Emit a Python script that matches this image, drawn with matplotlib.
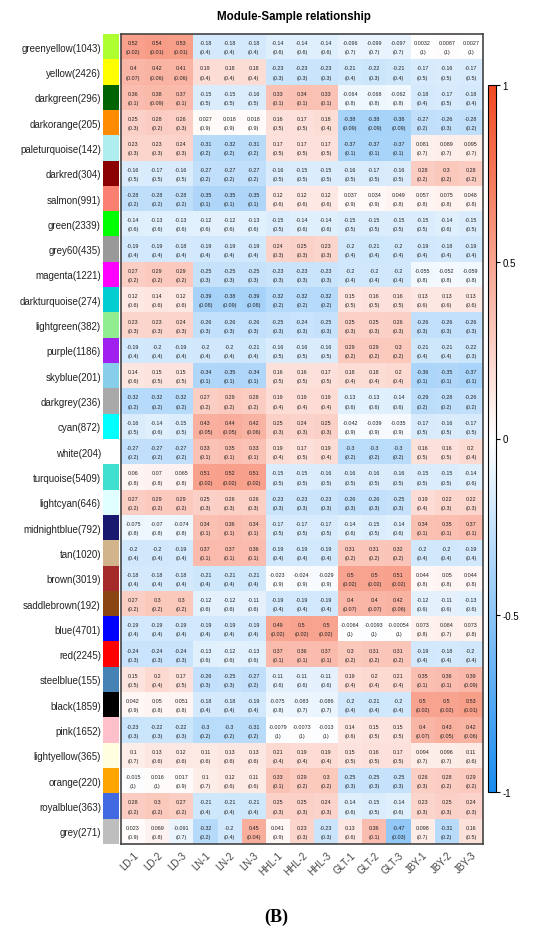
import numpy as np
import matplotlib
matplotlib.use('Agg')
import matplotlib.pyplot as plt
from matplotlib.colors import LinearSegmentedColormap, ListedColormap

plt.rcParams['font.family'] = ['Liberation Sans', 'DejaVu Sans']

samples = ['LD-1', 'LD-2', 'LD-3', 'LN-1', 'LN-2', 'LN-3', 'HHL-1', 'HHL-2', 'HHL-3',
           'GLT-1', 'GLT-2', 'GLT-3', 'JBY-1', 'JBY-2', 'JBY-3']

modules = ['greenyellow', 'yellow', 'darkgreen', 'darkorange', 'paleturquoise', 'darkred',
           'salmon', 'green', 'grey60', 'magenta', 'darkturquoise', 'lightgreen', 'purple',
           'skyblue', 'darkgrey', 'cyan', 'white', 'turquoise', 'lightcyan', 'midnightblue',
           'tan', 'brown', 'saddlebrown', 'blue', 'red', 'steelblue', 'black', 'pink',
           'lightyellow', 'orange', 'royalblue', 'grey']

module_sizes = [1043, 2426, 296, 205, 142, 304, 991, 2339, 435, 1221, 274, 382, 1186,
                201, 236, 872, 204, 5409, 646, 792, 1020, 3019, 192, 4701, 2245, 155,
                1859, 1652, 365, 220, 363, 271]

# R colour names -> hex
r_colors = {
    'greenyellow': '#ADFF2F', 'yellow': '#FFFF00', 'darkgreen': '#006400',
    'darkorange': '#FF8C00', 'paleturquoise': '#AFEEEE', 'darkred': '#8B0000',
    'salmon': '#FA8072', 'green': '#00FF00', 'grey60': '#999999', 'magenta': '#FF00FF',
    'darkturquoise': '#00CED1', 'lightgreen': '#90EE90', 'purple': '#A020F0',
    'skyblue': '#87CEEB', 'darkgrey': '#A9A9A9', 'cyan': '#00FFFF', 'white': '#FFFFFF',
    'turquoise': '#40E0D0', 'lightcyan': '#E0FFFF', 'midnightblue': '#191970',
    'tan': '#D2B48C', 'brown': '#A52A2A', 'saddlebrown': '#8B4513', 'blue': '#0000FF',
    'red': '#FF0000', 'steelblue': '#4682B4', 'black': '#000000', 'pink': '#FFC0CB',
    'lightyellow': '#FFFFE0', 'orange': '#FFA500', 'royalblue': '#4169E1', 'grey': '#BEBEBE',
}

cor = [
    [0.52, 0.54, 0.53, -0.18, -0.18, -0.18, -0.14, -0.14, -0.14, -0.096, -0.099, -0.097, 0.0032, 0.0087, 0.0027],
    [0.4, 0.42, 0.41, 0.19, 0.18, 0.18, -0.23, -0.23, -0.23, -0.21, -0.22, -0.21, -0.17, -0.16, -0.17],
    [0.36, 0.38, 0.37, -0.15, -0.15, -0.16, 0.33, 0.34, 0.33, -0.064, -0.068, -0.062, -0.18, -0.17, -0.18],
    [0.25, 0.28, 0.26, 0.027, 0.018, 0.018, 0.16, 0.17, 0.18, -0.38, -0.38, -0.38, -0.27, -0.26, -0.28],
    [0.23, 0.23, 0.24, -0.31, -0.32, -0.31, 0.17, 0.17, 0.17, -0.37, -0.37, -0.37, 0.081, 0.089, 0.095],
    [-0.16, -0.17, -0.16, -0.27, -0.27, -0.27, -0.16, -0.15, -0.15, -0.16, -0.17, -0.16, 0.28, 0.3, 0.28],
    [-0.28, -0.28, -0.28, -0.35, -0.35, -0.35, 0.12, 0.12, 0.12, 0.037, 0.034, 0.049, 0.057, 0.075, 0.048],
    [-0.14, -0.13, -0.13, -0.12, -0.12, -0.13, -0.15, -0.14, -0.14, -0.15, -0.15, -0.15, -0.15, -0.14, -0.15],
    [-0.19, -0.19, -0.18, -0.19, -0.19, -0.19, 0.24, 0.25, 0.23, -0.2, -0.21, -0.2, -0.19, -0.18, -0.19],
    [0.27, 0.29, 0.29, -0.25, -0.25, -0.25, -0.23, -0.23, -0.23, -0.2, -0.2, -0.2, -0.055, -0.052, -0.059],
    [0.12, 0.14, 0.12, -0.39, -0.38, -0.39, -0.32, -0.32, -0.32, 0.15, 0.16, 0.16, 0.13, 0.13, 0.13],
    [0.23, 0.23, 0.24, -0.26, -0.26, -0.26, -0.25, -0.24, -0.25, 0.25, 0.25, 0.26, -0.26, -0.26, -0.26],
    [-0.19, -0.2, -0.19, -0.2, -0.2, -0.21, -0.16, -0.16, -0.16, 0.29, 0.29, 0.3, -0.21, -0.21, -0.22],
    [0.14, 0.15, 0.15, -0.34, -0.35, -0.34, 0.16, 0.16, 0.17, 0.18, 0.18, 0.2, -0.36, -0.35, -0.37],
    [-0.32, -0.32, -0.32, 0.27, 0.29, 0.28, 0.19, 0.19, 0.19, -0.13, -0.13, -0.14, -0.29, -0.28, -0.26],
    [-0.16, -0.14, -0.15, 0.43, 0.44, 0.42, 0.25, 0.24, 0.25, -0.042, -0.039, -0.035, -0.17, -0.16, -0.17],
    [-0.27, -0.27, -0.27, 0.33, 0.35, 0.33, 0.19, 0.17, 0.19, -0.3, -0.3, -0.3, 0.16, 0.16, 0.2],
    [0.06, 0.07, 0.065, 0.51, 0.52, 0.51, -0.15, -0.15, -0.16, -0.16, -0.16, -0.16, -0.15, -0.15, -0.14],
    [0.27, 0.29, 0.29, 0.25, 0.26, 0.26, -0.23, -0.23, -0.23, -0.26, -0.26, -0.25, 0.19, 0.22, 0.22],
    [-0.075, -0.07, -0.074, 0.34, 0.36, 0.34, -0.17, -0.17, -0.17, -0.14, -0.15, -0.14, 0.34, 0.35, 0.37],
    [-0.2, -0.2, -0.19, 0.37, 0.37, 0.36, -0.19, -0.19, -0.19, 0.31, 0.31, 0.32, -0.2, -0.2, -0.19],
    [-0.18, -0.18, -0.18, -0.21, -0.21, -0.21, -0.023, -0.024, -0.029, 0.5, 0.5, 0.51, 0.044, 0.05, 0.044],
    [0.27, 0.3, 0.3, -0.12, -0.12, -0.11, -0.19, -0.19, -0.19, 0.4, 0.4, 0.42, -0.12, -0.11, -0.13],
    [-0.19, -0.19, -0.19, -0.19, -0.19, -0.19, 0.49, 0.5, 0.5, -0.0064, -0.0093, -0.00054, 0.073, 0.084, 0.073],
    [-0.24, -0.24, -0.24, -0.13, -0.12, -0.13, 0.37, 0.36, 0.37, 0.3, 0.31, 0.31, -0.19, -0.18, -0.2],
    [0.15, 0.2, 0.17, -0.26, -0.25, -0.27, -0.11, -0.11, -0.11, 0.19, 0.2, 0.21, 0.35, 0.36, 0.39],
    [0.042, 0.05, 0.051, -0.18, -0.18, -0.19, -0.075, -0.083, -0.086, -0.2, -0.21, -0.2, 0.5, 0.5, 0.53],
    [-0.23, -0.22, -0.22, -0.3, -0.3, -0.31, -0.0079, -0.0073, -0.013, 0.14, 0.15, 0.15, 0.4, 0.43, 0.42],
    [0.1, 0.13, 0.12, 0.11, 0.13, 0.13, 0.21, 0.19, 0.19, 0.15, 0.16, 0.17, 0.094, 0.096, 0.11],
    [-0.015, 0.016, 0.017, 0.1, 0.12, 0.11, 0.33, 0.29, 0.3, -0.25, -0.25, -0.25, 0.26, 0.28, 0.29],
    [0.28, 0.3, 0.27, -0.21, -0.21, -0.21, 0.25, 0.25, 0.24, -0.14, -0.15, -0.14, 0.23, 0.25, 0.24],
    [0.023, 0.069, -0.091, -0.32, -0.2, 0.45, 0.041, 0.23, -0.23, 0.13, 0.36, -0.47, 0.098, -0.31, 0.16],
]

pval = [
    [0.02, 0.01, 0.01, 0.4, 0.4, 0.4, 0.6, 0.6, 0.6, 0.7, 0.7, 0.7, 1, 1, 1],
    [0.07, 0.06, 0.06, 0.4, 0.4, 0.4, 0.3, 0.3, 0.3, 0.4, 0.3, 0.4, 0.5, 0.5, 0.5],
    [0.1, 0.09, 0.1, 0.5, 0.5, 0.5, 0.1, 0.1, 0.1, 0.8, 0.8, 0.8, 0.4, 0.5, 0.4],
    [0.3, 0.2, 0.3, 0.9, 0.9, 0.9, 0.5, 0.5, 0.4, 0.09, 0.09, 0.09, 0.2, 0.3, 0.2],
    [0.3, 0.3, 0.3, 0.2, 0.2, 0.2, 0.5, 0.5, 0.5, 0.1, 0.1, 0.1, 0.7, 0.7, 0.7],
    [0.5, 0.5, 0.5, 0.2, 0.2, 0.2, 0.5, 0.5, 0.5, 0.5, 0.5, 0.5, 0.2, 0.2, 0.2],
    [0.2, 0.2, 0.2, 0.1, 0.1, 0.1, 0.6, 0.6, 0.6, 0.9, 0.9, 0.8, 0.8, 0.8, 0.8],
    [0.6, 0.6, 0.6, 0.6, 0.6, 0.6, 0.5, 0.6, 0.6, 0.5, 0.5, 0.5, 0.5, 0.6, 0.5],
    [0.4, 0.4, 0.4, 0.4, 0.4, 0.4, 0.3, 0.3, 0.3, 0.4, 0.4, 0.4, 0.4, 0.4, 0.4],
    [0.2, 0.2, 0.2, 0.3, 0.3, 0.3, 0.3, 0.3, 0.3, 0.4, 0.4, 0.4, 0.8, 0.8, 0.8],
    [0.6, 0.6, 0.6, 0.08, 0.09, 0.08, 0.2, 0.2, 0.2, 0.5, 0.5, 0.5, 0.6, 0.6, 0.6],
    [0.3, 0.3, 0.3, 0.3, 0.3, 0.3, 0.3, 0.3, 0.3, 0.3, 0.3, 0.3, 0.3, 0.3, 0.3],
    [0.4, 0.4, 0.4, 0.4, 0.4, 0.4, 0.5, 0.5, 0.5, 0.2, 0.2, 0.2, 0.4, 0.4, 0.3],
    [0.6, 0.5, 0.5, 0.1, 0.1, 0.1, 0.5, 0.5, 0.5, 0.4, 0.4, 0.4, 0.1, 0.1, 0.1],
    [0.2, 0.2, 0.2, 0.2, 0.2, 0.2, 0.4, 0.4, 0.4, 0.6, 0.6, 0.6, 0.2, 0.2, 0.2],
    [0.5, 0.6, 0.5, 0.05, 0.05, 0.06, 0.3, 0.3, 0.3, 0.9, 0.9, 0.9, 0.5, 0.5, 0.5],
    [0.2, 0.2, 0.2, 0.1, 0.1, 0.1, 0.4, 0.5, 0.4, 0.2, 0.2, 0.2, 0.5, 0.5, 0.4],
    [0.8, 0.8, 0.8, 0.02, 0.02, 0.02, 0.5, 0.5, 0.5, 0.5, 0.5, 0.5, 0.5, 0.5, 0.6],
    [0.2, 0.2, 0.2, 0.3, 0.3, 0.3, 0.3, 0.3, 0.3, 0.3, 0.3, 0.3, 0.4, 0.3, 0.3],
    [0.8, 0.8, 0.8, 0.1, 0.1, 0.1, 0.5, 0.5, 0.5, 0.6, 0.5, 0.6, 0.1, 0.1, 0.1],
    [0.4, 0.4, 0.4, 0.1, 0.1, 0.1, 0.4, 0.4, 0.4, 0.2, 0.2, 0.2, 0.4, 0.4, 0.4],
    [0.4, 0.4, 0.4, 0.4, 0.4, 0.4, 0.9, 0.9, 0.9, 0.02, 0.02, 0.02, 0.8, 0.8, 0.8],
    [0.2, 0.2, 0.2, 0.6, 0.6, 0.6, 0.4, 0.4, 0.4, 0.07, 0.07, 0.06, 0.6, 0.6, 0.6],
    [0.4, 0.4, 0.4, 0.4, 0.4, 0.4, 0.02, 0.02, 0.02, 1, 1, 1, 0.8, 0.7, 0.8],
    [0.3, 0.3, 0.3, 0.6, 0.6, 0.6, 0.1, 0.1, 0.1, 0.2, 0.2, 0.2, 0.4, 0.4, 0.4],
    [0.5, 0.4, 0.5, 0.3, 0.3, 0.2, 0.6, 0.6, 0.6, 0.4, 0.4, 0.4, 0.1, 0.1, 0.09],
    [0.9, 0.8, 0.8, 0.4, 0.4, 0.4, 0.8, 0.7, 0.7, 0.4, 0.4, 0.4, 0.02, 0.02, 0.01],
    [0.3, 0.3, 0.3, 0.2, 0.2, 0.2, 1, 1, 1, 0.6, 0.5, 0.5, 0.07, 0.05, 0.06],
    [0.7, 0.6, 0.6, 0.6, 0.6, 0.6, 0.4, 0.4, 0.4, 0.5, 0.5, 0.5, 0.7, 0.7, 0.6],
    [1, 1, 0.9, 0.7, 0.6, 0.6, 0.1, 0.2, 0.2, 0.3, 0.3, 0.3, 0.3, 0.2, 0.2],
    [0.2, 0.2, 0.2, 0.4, 0.4, 0.4, 0.3, 0.3, 0.3, 0.6, 0.5, 0.6, 0.3, 0.3, 0.3],
    [0.9, 0.8, 0.7, 0.2, 0.4, 0.04, 0.9, 0.3, 0.3, 0.6, 0.1, 0.03, 0.7, 0.2, 0.5],
]

cbar_ticks = [1, 0.5, 0, -0.5, -1]

W, H = 550, 929
fig = plt.figure(figsize=(W / 100, H / 100), dpi=100)
fig.patch.set_facecolor('white')

cmap = LinearSegmentedColormap.from_list('bwr_wgcna', ['#1A8CF0', '#FFFFFF', '#F24A22'])

hm_left, hm_right, hm_top, hm_bot = 121, 483, 35, 845
ax = fig.add_axes([hm_left / W, 1 - hm_bot / H, (hm_right - hm_left) / W, (hm_bot - hm_top) / H])
cor_arr = np.array(cor)
im = ax.imshow(cor_arr, cmap=cmap, vmin=-1, vmax=1, aspect='auto', interpolation='nearest')
nr, nc = cor_arr.shape
for i in range(nr):
    for j in range(nc):
        ax.text(j, i - 0.16, '%.2g' % cor[i][j], ha='center', va='center', fontsize=3.9, color='#222222')
        ax.text(j, i + 0.2, '(%.1g)' % pval[i][j], ha='center', va='center', fontsize=3.9, color='#222222')
ax.set_xticks(range(nc))
ax.set_xticklabels(samples, rotation=45, ha='right', va='top', rotation_mode='anchor',
                   fontsize=7, color='#444444')
ax.tick_params(axis='x', length=0, pad=4)
ax.set_yticks([])
for sp in ax.spines.values():
    sp.set_color('#444444')
    sp.set_linewidth(1.2)

# module colour strip
sax = fig.add_axes([103 / W, 1 - hm_bot / H, 16 / W, (hm_bot - hm_top) / H])
strip_cmap = ListedColormap([r_colors[m] for m in modules])
sax.imshow(np.arange(nr).reshape(-1, 1), cmap=strip_cmap, aspect='auto', interpolation='nearest',
           vmin=-0.5, vmax=nr - 0.5)
sax.set_xticks([])
sax.set_yticks(range(nr))
sax.set_yticklabels(['%s(%d)' % (m, s) for m, s in zip(modules, module_sizes)], fontsize=7, color='#222222')
sax.tick_params(axis='y', length=0, pad=1.5)
for sp in sax.spines.values():
    sp.set_visible(False)

# colorbar
cax = fig.add_axes([488 / W, 1 - 793 / H, 8 / W, (793 - 86) / H])
cb = fig.colorbar(im, cax=cax, ticks=cbar_ticks)
cb.ax.set_yticklabels([('%g' % t) for t in cbar_ticks], fontsize=7)
cb.ax.tick_params(length=3, width=0.8, pad=1.5)
cb.outline.set_linewidth(0.8)

fig.text(294 / W, 1 - 17 / H, 'Module-Sample relationship', ha='center', va='center',
         fontsize=8.3, fontweight='bold')
fig.text(276 / W, 1 - 917 / H, '(B)', ha='center', va='center', fontsize=13,
         fontweight='bold', family='Liberation Serif')

fig.savefig('out.png', dpi=100)
